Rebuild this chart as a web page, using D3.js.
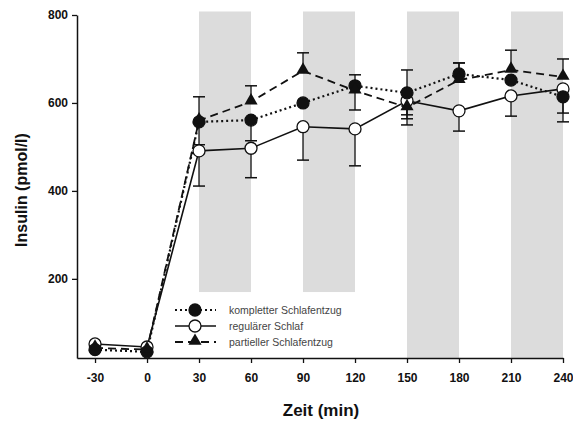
<!doctype html>
<html lang="de">
<head>
  <meta charset="utf-8">
  <title>Insulin</title>
  <script src="https://d3js.org/d3.v7.min.js"></script>
  <style>
    body { margin: 0; background: #fff; }
    svg { display: block; font-family: "Liberation Sans", Arial, sans-serif; }
  </style>
</head>
<body>
  <script>
    // time points (min)
    var zeit = [-30, 0, 30, 60, 90, 120, 150, 180, 210, 240];
    var xTicks = [-30, 0, 30, 60, 90, 120, 150, 180, 210, 240];
    var yTicks = [200, 400, 600, 800];

    // shaded sleep-deprivation periods
    var shadeFrom = [30, 90, 150, 210];
    var shadeTo = [60, 120, 180, 240];
    var shadeBottom = [170, 170, 20, 20];
    var shadeTop = 808;

    // kompletter Schlafentzug
    var komplett = [39, 34, 557, 561, 600, 639, 623, 666, 652, 614];
    var komplettUp = [0, 0, 0, 0, 0, 25, 52, 25, 0, 0];
    var komplettDown = [0, 0, 52, 47, 0, 55, 50, 0, 0, 37];

    // regulärer Schlaf
    var regulaer = [52, 45, 491, 497, 546, 541, 605, 582, 616, 632];
    var regulaerUp = [0, 0, 0, 0, 0, 0, 0, 0, 0, 0];
    var regulaerDown = [0, 0, 80, 67, 76, 84, 55, 46, 46, 75];

    // partieller Schlafentzug
    var partiell = [43, 39, 560, 603, 673, 628, 590, 652, 675, 659];
    var partiellUp = [0, 0, 54, 36, 41, 0, 0, 39, 45, 41];
    var partiellDown = [0, 0, 0, 0, 0, 0, 26, 0, 0, 0];

    var width = 573, height = 423;

    var svg = d3.select("body").append("svg")
      .attr("width", width)
      .attr("height", height);

    var x = d3.scaleLinear().domain([-40.4, 240]).range([77, 563]);
    var y = d3.scaleLinear().domain([20, 800]).range([358, 15]);

    // grey bars
    shadeFrom.forEach(function(s, i) {
      svg.append("rect")
        .attr("x", x(s))
        .attr("width", x(shadeTo[i]) - x(s))
        .attr("y", y(shadeTop))
        .attr("height", y(shadeBottom[i]) - y(shadeTop))
        .attr("fill", "#dcdcdc");
    });

    var series = [
      { name: "kompletter Schlafentzug", vals: komplett, up: komplettUp, down: komplettDown, dash: "2,3", width: 2.2, marker: "filled" },
      { name: "regulärer Schlaf", vals: regulaer, up: regulaerUp, down: regulaerDown, dash: null, width: 1.6, marker: "open" },
      { name: "partieller Schlafentzug", vals: partiell, up: partiellUp, down: partiellDown, dash: "8,5", width: 1.8, marker: "triangle" }
    ];

    var line = d3.line()
      .x(function(d, i) { return x(zeit[i]); })
      .y(function(d) { return y(d); });

    // error bars
    series.forEach(function(s) {
      s.vals.forEach(function(v, i) {
        [[s.up[i], 1], [s.down[i], -1]].forEach(function(e) {
          if (!e[0]) return;
          var cx = x(zeit[i]);
          var ey = y(v + e[1] * e[0]);
          svg.append("line")
            .attr("x1", cx).attr("x2", cx)
            .attr("y1", y(v)).attr("y2", ey)
            .attr("stroke", "#111").attr("stroke-width", 1.3);
          svg.append("line")
            .attr("x1", cx - 6).attr("x2", cx + 6)
            .attr("y1", ey).attr("y2", ey)
            .attr("stroke", "#111").attr("stroke-width", 1.5);
        });
      });
    });

    // lines
    series.forEach(function(s) {
      svg.append("path")
        .datum(s.vals)
        .attr("fill", "none")
        .attr("stroke", "#111")
        .attr("stroke-width", s.width)
        .attr("stroke-dasharray", s.dash)
        .attr("d", line);
    });

    function drawMarker(g, type, cx, cy) {
      if (type === "triangle") {
        g.append("path")
          .attr("d", d3.symbol().type(d3.symbolTriangle).size(75)())
          .attr("transform", "translate(" + cx + "," + (cy - 1) + ")")
          .attr("fill", "#111");
      } else {
        g.append("circle")
          .attr("cx", cx).attr("cy", cy).attr("r", 6)
          .attr("fill", type === "open" ? "#fff" : "#111")
          .attr("stroke", "#111")
          .attr("stroke-width", 1.3);
      }
    }

    // markers (open circles first, so filled ones sit on top like the original)
    [series[1], series[0], series[2]].forEach(function(s) {
      s.vals.forEach(function(v, i) {
        drawMarker(svg, s.marker, x(zeit[i]), y(v));
      });
    });

    // axes
    var xAxis = d3.axisBottom(x).tickValues(xTicks).tickSize(5).tickSizeOuter(0)
      .tickFormat(function(d) { return String(d); });
    var gx = svg.append("g").attr("transform", "translate(0," + y(20) + ")").call(xAxis);
    var yAxis = d3.axisLeft(y).tickValues(yTicks).tickSize(5).tickSizeOuter(0);
    var gy = svg.append("g").attr("transform", "translate(" + x(-40.4) + ",0)").call(yAxis);

    [gx, gy].forEach(function(g) {
      g.select(".domain").attr("stroke", "#111").attr("stroke-width", 1.5);
      g.selectAll(".tick line").attr("stroke", "#111").attr("stroke-width", 1.3);
      g.selectAll(".tick text")
        .attr("fill", "#111")
        .style("font-size", "12px")
        .style("font-weight", "bold");
    });
    gx.selectAll(".tick text").attr("dy", "1.35em");
    gy.selectAll(".tick text").attr("x", -9);

    // axis titles
    svg.append("text")
      .attr("transform", "translate(27,190) rotate(-90)")
      .attr("text-anchor", "middle")
      .style("font-size", "16px")
      .style("font-weight", "bold")
      .attr("fill", "#111")
      .text("Insulin (pmol/l)");

    svg.append("text")
      .attr("x", 321).attr("y", 416)
      .attr("text-anchor", "middle")
      .style("font-size", "17px")
      .style("font-weight", "bold")
      .attr("fill", "#111")
      .text("Zeit (min)");

    // legend
    var legend = svg.append("g");
    series.forEach(function(s, i) {
      var ly = 310 + i * 16;
      legend.append("line")
        .attr("x1", 175).attr("x2", 216)
        .attr("y1", ly).attr("y2", ly)
        .attr("stroke", "#111")
        .attr("stroke-width", s.width)
        .attr("stroke-dasharray", s.dash);
      drawMarker(legend, s.marker, 195, ly);
      legend.append("text")
        .attr("x", 229).attr("y", ly + 4)
        .style("font-size", "10.5px")
        .attr("fill", "#444")
        .text(s.name);
    });
  </script>
</body>
</html>
